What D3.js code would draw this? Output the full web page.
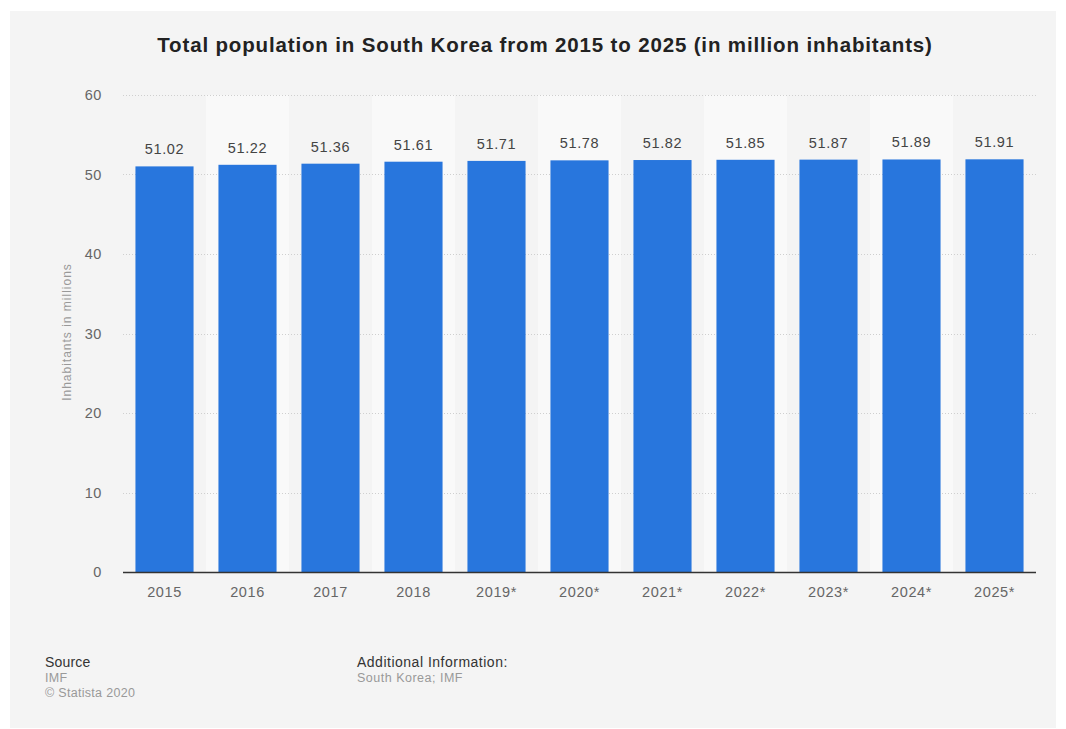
<!DOCTYPE html>
<html>
<head>
<meta charset="utf-8">
<script src="https://cdn.jsdelivr.net/npm/d3@7"></script>
<style>
  body { margin: 0; background: #ffffff; font-family: "Liberation Sans", Arial, sans-serif; }
</style>
</head>
<body>
<div id="chart"></div>
<script>
// data
var years = ["2015", "2016", "2017", "2018", "2019*", "2020*", "2021*", "2022*", "2023*", "2024*", "2025*"];
var population = [51.02, 51.22, 51.36, 51.61, 51.71, 51.78, 51.82, 51.85, 51.87, 51.89, 51.91];
var yTicks = [0, 10, 20, 30, 40, 50, 60];

var W = 1066, H = 729;
var margin = { left: 123, right: 30, top: 95, bottom: 157 };
var width = W - margin.left - margin.right;
var height = H - margin.top - margin.bottom;

var svg = d3.select("#chart")
    .append("svg")
    .attr("width", W)
    .attr("height", H);

// grey panel
svg.append("rect")
    .attr("x", 10).attr("y", 11)
    .attr("width", 1046).attr("height", 717)
    .style("fill", "#f4f4f4");

svg.append("text")
    .attr("x", 545).attr("y", 52)
    .attr("text-anchor", "middle")
    .style("font-size", "20.5px")
    .style("letter-spacing", "0.85px")
    .style("font-weight", "bold")
    .style("fill", "#222")
    .text("Total population in South Korea from 2015 to 2025 (in million inhabitants)");

var g = svg.append("g")
    .attr("transform", "translate(" + margin.left + "," + margin.top + ")");

var x = d3.scaleBand().domain(years).range([0, width]).padding(0);
var y = d3.scaleLinear().domain([0, 60]).range([height, 0]);

// alternating band shading
g.selectAll(".band")
    .data(years.filter(function (d, i) { return i % 2 == 1; }))
    .enter().append("rect")
    .attr("x", function (d) { return x(d); })
    .attr("y", 0)
    .attr("width", x.bandwidth())
    .attr("height", height)
    .style("fill", "#f9f9f9");

// gridlines
g.selectAll(".grid")
    .data(yTicks.filter(function (d) { return d > 0; }))
    .enter().append("line")
    .attr("x1", 0).attr("x2", width)
    .attr("y1", function (d) { return Math.round(y(d)) + 0.5; })
    .attr("y2", function (d) { return Math.round(y(d)) + 0.5; })
    .style("stroke", "#cfcfcf")
    .style("stroke-dasharray", "1,2");

// y axis labels
g.selectAll(".ytick")
    .data(yTicks)
    .enter().append("text")
    .attr("x", -21)
    .attr("y", function (d) { return y(d) + 5; })
    .attr("text-anchor", "end")
    .style("font-size", "14.5px")
    .style("letter-spacing", "0.6px")
    .style("fill", "#666")
    .text(function (d) { return d; });

svg.append("text")
    .attr("transform", "translate(71,332)rotate(-90)")
    .attr("text-anchor", "middle")
    .style("font-size", "12px")
    .style("letter-spacing", "1px")
    .style("fill", "#999")
    .text("Inhabitants in millions");

// bars
var barW = x.bandwidth() * 0.7;
g.selectAll(".bar")
    .data(population)
    .enter().append("rect")
    .attr("x", function (d, i) { return x(years[i]) + (x.bandwidth() - barW) / 2; })
    .attr("y", function (d) { return y(d); })
    .attr("width", barW)
    .attr("height", function (d) { return height - y(d); })
    .style("fill", "#2876dd");

// value labels
g.selectAll(".val")
    .data(population)
    .enter().append("text")
    .attr("x", function (d, i) { return x(years[i]) + x.bandwidth() / 2; })
    .attr("y", function (d) { return y(d) - 12; })
    .attr("text-anchor", "middle")
    .style("font-size", "14.5px")
    .style("letter-spacing", "0.6px")
    .style("fill", "#444")
    .text(function (d) { return d.toFixed(2); });

// x axis
g.append("line")
    .attr("x1", 0).attr("x2", width)
    .attr("y1", height + 0.5).attr("y2", height + 0.5)
    .style("stroke", "#333")
    .style("stroke-width", 1.3);

g.selectAll(".xtick")
    .data(years)
    .enter().append("text")
    .attr("x", function (d) { return x(d) + x.bandwidth() / 2; })
    .attr("y", height + 25)
    .attr("text-anchor", "middle")
    .style("font-size", "14.5px")
    .style("letter-spacing", "0.6px")
    .style("fill", "#666")
    .text(function (d) { return d; });

// footer
var foot = svg.append("g");
foot.append("text").attr("x", 45).attr("y", 667).style("font-size", "14px").style("letter-spacing", "0.2px").style("fill", "#333").text("Source");
foot.append("text").attr("x", 45).attr("y", 682).style("font-size", "12.5px").style("letter-spacing", "0.3px").style("fill", "#999").text("IMF");
foot.append("text").attr("x", 45).attr("y", 697).style("font-size", "12.5px").style("letter-spacing", "0.3px").style("fill", "#999").text("© Statista 2020");
foot.append("text").attr("x", 357).attr("y", 667).style("font-size", "14px").style("letter-spacing", "0.5px").style("fill", "#333").text("Additional Information:");
foot.append("text").attr("x", 357).attr("y", 682).style("font-size", "12.5px").style("letter-spacing", "0.5px").style("fill", "#999").text("South Korea; IMF");
</script>
</body>
</html>
